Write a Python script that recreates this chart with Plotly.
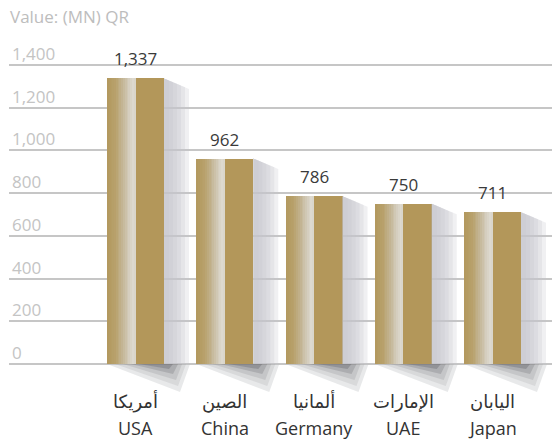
import plotly.graph_objects as go

# ---- data ----
categories_en = ["USA", "China", "Germany", "UAE", "Japan"]
categories_ar = ["أمريكا", "الصين", "ألمانيا", "الإمارات", "اليابان"]
values = [1337, 962, 786, 750, 711]
value_labels = ["1,337", "962", "786", "750", "711"]
y_ticks = [0, 200, 400, 600, 800, 1000, 1200, 1400]
y_tick_labels = ["0", "200", "400", "600", "800", "1,000", "1,200", "1,400"]
title_text = "Value: (MN) QR"

# ---- geometry helpers (pixel -> axis units) ----
positions = list(range(len(values)))
PX_X = 1 / 89.25          # x units per pixel
PX_Y = 1400 / 299.0       # y units per pixel
W = 57 * PX_X             # bar width
X_RANGE = [-126.5 * PX_X, -126.5 * PX_X + 543 * PX_X]
TOP_PX = 30
Y_RANGE = [-32 * PX_Y, 1400 + (65 - TOP_PX) * PX_Y]

fig = go.Figure()

# ---- shadows (right side) ----
for w in [25, 21, 17, 13, 9, 5]:
    xs, ys = [], []
    for i, v in zip(positions, values):
        r = i + W / 2
        xs += [r, r + w * PX_X, r + w * PX_X, r, r, None]
        ys += [v, v - 0.42 * w * PX_Y, 0, 0, v, None]
    fig.add_trace(go.Scatter(x=xs, y=ys, mode="lines", fill="toself",
                             fillcolor="rgba(196,198,203,0.26)",
                             line=dict(width=0), hoverinfo="skip",
                             showlegend=False))

# ---- shadows (below bars) ----
layers = [
    ((0, 26, 16, -28), "rgba(190,192,196,0.35)"),
    ((8, 22, 14, -22), "rgba(160,161,166,0.22)"),
    ((16, 18, 12, -16), "rgba(130,131,136,0.22)"),
    ((24, 14, 9, -10), "rgba(100,100,105,0.25)"),
    ((32, 9, 5, -5), "rgba(80,80,85,0.28)"),
]
for (l_off, r_off, b_off, b_y), col in layers:
    xs, ys = [], []
    for i in positions:
        L = i - W / 2
        R = i + W / 2
        xs += [L + l_off * PX_X, R + r_off * PX_X, R + b_off * PX_X,
               L + l_off * PX_X, None]
        ys += [0, 0, b_y * PX_Y, 0, None]
    fig.add_trace(go.Scatter(x=xs, y=ys, mode="lines", fill="toself",
                             fillcolor=col, line=dict(width=0),
                             hoverinfo="skip", showlegend=False))

# ---- bars: gradient left half built from strips ----
stops = [(0.0, (178, 152, 94)), (0.3, (184, 161, 108)), (0.55, (196, 182, 150)),
         (0.8, (214, 208, 194)), (0.93, (222, 219, 210)), (1.0, (214, 210, 198))]


def grad(t):
    for (t0, c0), (t1, c1) in zip(stops[:-1], stops[1:]):
        if t0 <= t <= t1:
            f = (t - t0) / (t1 - t0)
            return tuple(round(a + (b - a) * f) for a, b in zip(c0, c1))
    return stops[-1][1]


N = 16
sw = (W / 2) / N
for j in range(N):
    c = grad((j + 0.5) / N)
    fig.add_trace(go.Bar(x=positions, y=values, width=sw * 1.4,
                         offset=-W / 2 + j * sw,
                         marker=dict(color="rgb(%d,%d,%d)" % c, line=dict(width=0)),
                         hoverinfo="skip", showlegend=False))
fig.add_trace(go.Bar(x=positions, y=values, width=W / 2, offset=0,
                     marker=dict(color="#b3975a", line=dict(width=0)),
                     hoverinfo="skip", showlegend=False))

# ---- value labels ----
for i, v, t in zip(positions, values, value_labels):
    fig.add_annotation(x=i, y=v, text=t, showarrow=False, yanchor="bottom",
                       yshift=6, font=dict(size=17, color="#3a3a3a"))

# ---- category labels ----
for i, ar, en in zip(positions, categories_ar, categories_en):
    fig.add_annotation(x=i, y=0, text=ar, showarrow=False, yanchor="middle",
                       yshift=-37, font=dict(size=18, color="#333333"))
    fig.add_annotation(x=i, y=0, text=en, showarrow=False, yanchor="middle",
                       yshift=-64, font=dict(size=18, color="#333333"))

fig.update_layout(
    width=552, height=441, autosize=False,
    margin=dict(l=9, r=0, t=TOP_PX, b=45, pad=0, autoexpand=False),
    paper_bgcolor="white", plot_bgcolor="white",
    barmode="overlay", bargap=0,
    font=dict(family="Open Sans, DejaVu Sans, sans-serif"),
    title=dict(text=title_text, x=10 / 552, xanchor="left", y=1 - 17 / 441,
               yanchor="middle", font=dict(size=17, color="#bdbdbd")),
    xaxis=dict(range=X_RANGE, showgrid=False, zeroline=False,
               showticklabels=False, showline=False, ticks="",
               automargin=False),
    yaxis=dict(range=Y_RANGE, tickvals=y_ticks, ticktext=y_tick_labels,
               showgrid=True, gridcolor="#c6c6c6", gridwidth=1.5,
               zeroline=True, zerolinecolor="#c6c6c6", zerolinewidth=1.5,
               ticklabelposition="inside", ticklabelshift=-11,
               tickfont=dict(size=17, color="#c4c4c4"), showline=False,
               ticks="", automargin=False),
    showlegend=False,
)

fig.write_html("out.html", config={"displayModeBar": False},
               post_script="document.body.style.margin='0';"
                           "document.body.style.padding='0';")
